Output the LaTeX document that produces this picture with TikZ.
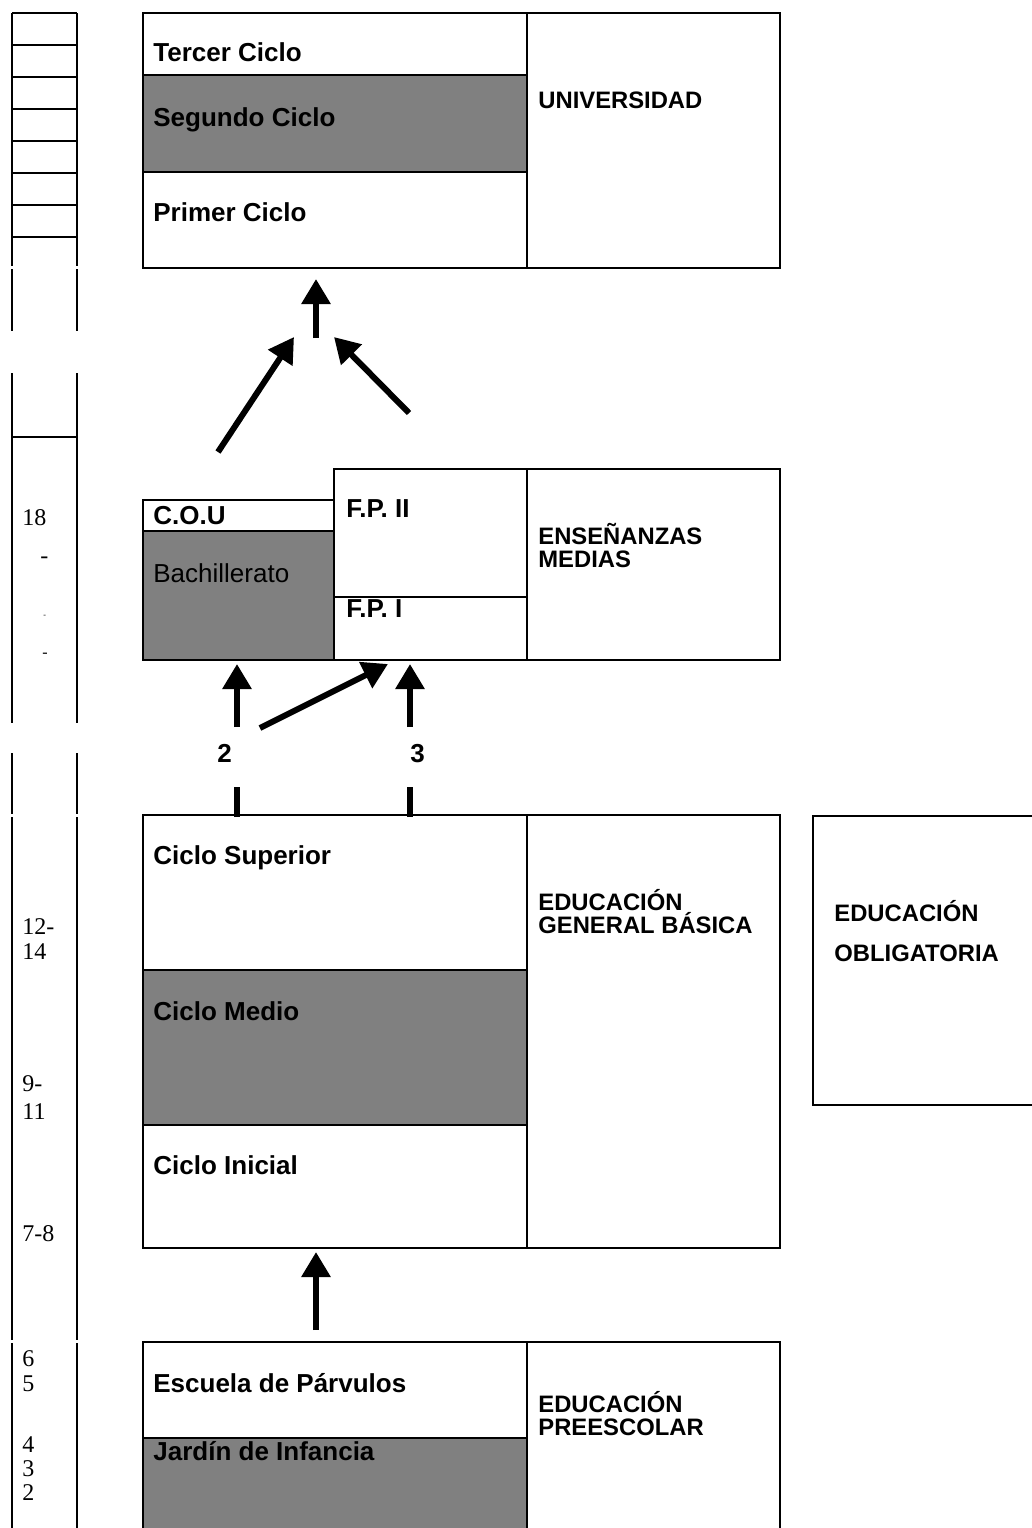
\documentclass[tikz,border=0pt]{standalone}
\usepackage{fontspec}
\setmainfont{Liberation Serif}
\newfontfamily\arialfont{Liberation Sans}
\usetikzlibrary{arrows.meta}
\definecolor{shadecolor}{RGB}{128,128,128}
\tikzset{
  boxln/.style={line width=1pt},
  shadecell/.style={fill=shadecolor},
  flowarrow/.style={-{Triangle[length=12.5pt,width=14pt]}, line width=3pt},
  flowgap/.style={line width=3pt},
  cyclelbl/.style={anchor=base west, inner sep=0pt, font=\arialfont\bfseries\fontsize{13}{15}\selectfont},
  levellbl/.style={anchor=base west, inner sep=0pt, font=\arialfont\bfseries\fontsize{11.9}{14}\selectfont},
  agelbl/.style={anchor=base west, inner sep=0pt, font=\fontsize{12}{14}\selectfont},
}

\begin{document}
\begin{tikzpicture}[x=0.5pt,y=-0.5pt]
  \useasboundingbox (0,0) rectangle (1032,1528);

  % age column
  \draw[boxln] (12,13) -- (12,266) (77,13) -- (77,266);
  \draw[boxln] (12,269) -- (12,331) (77,269) -- (77,331);
  \foreach \y in {13,44.5,77,108.5,141,172.5,205,237}
    \draw[boxln] (12,\y) -- (77,\y);
  \draw[boxln] (12,373) -- (12,723) (77,373) -- (77,723);
  \draw[boxln] (12,437) -- (77,437);
  \draw[boxln] (12,753) -- (12,814) (77,753) -- (77,814);
  \draw[boxln] (12,817) -- (12,1340) (77,817) -- (77,1340);
  \draw[boxln] (12,1343) -- (12,1535) (77,1343) -- (77,1535);

  \node[agelbl] (ageA) at (22,525) {18};
  \node[agelbl] (ageB) at (40,563) {-};
  \node[agelbl, font=\fontsize{4}{5}\selectfont] (ageC) at (43,617) {-};
  \node[agelbl, font=\fontsize{8}{9}\selectfont] (ageD) at (42,657) {-};
  \node[agelbl] (ageE) at (22,934) {12-};
  \node[agelbl] (ageF) at (22,959) {14};
  \node[agelbl] (ageG) at (22,1091) {9-};
  \node[agelbl] (ageH) at (22,1119) {11};
  \node[agelbl] (ageI) at (22,1241) {7-8};
  \node[agelbl] (ageJ) at (22,1366) {6};
  \node[agelbl] (ageK) at (22,1391) {5};
  \node[agelbl] (ageL) at (22,1452) {4};
  \node[agelbl] (ageM) at (22,1476) {3};
  \node[agelbl] (ageN) at (22,1500) {2};

  % universidad
  \fill[shadecell] (143,75) rectangle (527,172);
  \draw[boxln] (143,13) rectangle (780,268);
  \draw[boxln] (527,13) -- (527,268) (143,75) -- (527,75) (143,172) -- (527,172);
  \node[cyclelbl] (tercer) at (153,61.5) {Tercer Ciclo};
  \node[cyclelbl] (segundo) at (153,126) {Segundo Ciclo};
  \node[cyclelbl] (primer) at (153,221) {Primer Ciclo};
  \node[levellbl] (univ) at (538,108.5) {UNIVERSIDAD};

  % ensenanzas medias
  \fill[shadecell] (143,531) rectangle (334,660);
  \draw[boxln] (143,660) -- (143,500) -- (334,500) -- (334,469) -- (780,469) -- (780,660) -- cycle;
  \draw[boxln] (334,500) -- (334,660) (143,531) -- (334,531) (334,597) -- (527,597) (527,469) -- (527,660);
  \node[cyclelbl] (cou) at (153,524) {C.O.U};
  \node[cyclelbl, font=\arialfont\fontsize{13}{15}\selectfont] (bach) at (153,582) {Bachillerato};
  \node[cyclelbl] (fpii) at (346,517.5) {F.P. II};
  \node[cyclelbl] (fpi) at (346,617.5) {F.P. I};
  \node[levellbl] (mediasA) at (538,544.5) {ENSEÑANZAS};
  \node[levellbl] (mediasB) at (538,567.5) {MEDIAS};

  % EGB
  \fill[shadecell] (143,970) rectangle (527,1125);
  \draw[boxln] (143,815) rectangle (780,1248);
  \draw[boxln] (527,815) -- (527,1248) (143,970) -- (527,970) (143,1125) -- (527,1125);
  \node[cyclelbl] (superior) at (153,864.5) {Ciclo Superior};
  \node[cyclelbl] (medio) at (153,1020) {Ciclo Medio};
  \node[cyclelbl] (inicial) at (153,1174) {Ciclo Inicial};
  \node[levellbl] (egbA) at (538,910) {EDUCACIÓN};
  \node[levellbl] (egbB) at (538,933) {GENERAL BÁSICA};

  % obligatoria
  \draw[boxln] (1040,816) -- (813,816) -- (813,1105) -- (1040,1105);
  \node[levellbl] (obligA) at (834,921) {EDUCACIÓN};
  \node[levellbl] (obligB) at (834,961.5) {OBLIGATORIA};

  % preescolar
  \fill[shadecell] (143,1438) rectangle (527,1535);
  \draw[boxln] (143,1535) -- (143,1342) -- (780,1342) -- (780,1535) (527,1342) -- (527,1535) (143,1438) -- (527,1438);
  \node[cyclelbl] (parvulos) at (153,1392) {Escuela de Párvulos};
  \node[cyclelbl] (jardin) at (153,1460) {Jardín de Infancia};
  \node[levellbl] (prescA) at (538,1412) {EDUCACIÓN};
  \node[levellbl] (prescB) at (538,1435) {PREESCOLAR};

  % paths between levels
  \coordinate (uniFoot) at (316,338);
  \coordinate (uniIn) at (316,279);
  \coordinate (bachOut) at (218,452);
  \coordinate (bachHead) at (294,337);
  \coordinate (fpOut) at (409,413);
  \coordinate (fpHead) at (334,337);
  \draw[flowarrow] (uniFoot) -- (uniIn);
  \draw[flowarrow] (bachOut) -- (bachHead);
  \draw[flowarrow] (fpOut) -- (fpHead);

  \coordinate (egbTwoTop) at (237,787);
  \coordinate (egbTwo) at (237,817);
  \coordinate (egbThreeTop) at (410,787);
  \coordinate (egbThree) at (410,817);
  \draw[flowgap] (egbTwo) -- (egbTwoTop);
  \draw[flowgap] (egbThree) -- (egbThreeTop);
  \node[cyclelbl] (routeTwo) at (217,762) {2};
  \node[cyclelbl] (routeThree) at (410,762) {3};

  \coordinate (twoFoot) at (237,727);
  \coordinate (bachIn) at (237,664);
  \coordinate (crossFoot) at (260,728);
  \coordinate (fpiLeft) at (388,664);
  \coordinate (threeFoot) at (410,727);
  \coordinate (fpiIn) at (410,664);
  \draw[flowarrow] (twoFoot) -- (bachIn);
  \draw[flowarrow] (crossFoot) -- (fpiLeft);
  \draw[flowarrow] (threeFoot) -- (fpiIn);

  \coordinate (prescOut) at (316,1330);
  \coordinate (egbIn) at (316,1252);
  \draw[flowarrow] (prescOut) -- (egbIn);
\end{tikzpicture}
\end{document}
